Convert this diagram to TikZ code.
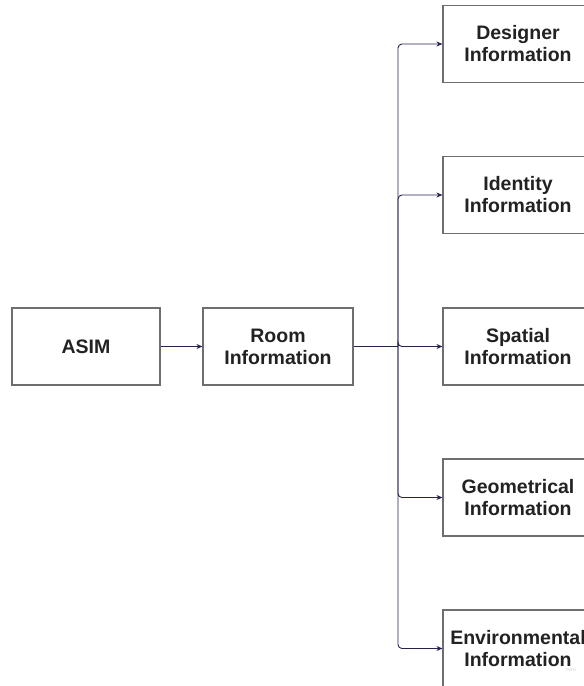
\documentclass[tikz,border=0pt]{standalone}
\usepackage{fontspec}
\setmainfont{Liberation Sans}
\usetikzlibrary{arrows.meta}
\definecolor{boxline}{HTML}{6E6E6E}
\definecolor{wire}{HTML}{24244F}
\definecolor{ink}{HTML}{222222}
\tikzset{
  infobox/.style={draw=boxline, line width=1.1pt, fill=white,
    minimum width=150pt, minimum height=77pt, inner sep=0pt,
    align=center, text=ink,
    font=\fontsize{19.5}{22}\selectfont\bfseries},
  link/.style={draw=wire, line width=0.9pt,
    -{Stealth[length=6pt,width=5pt]}},
  trunk/.style={draw=wire, line width=0.9pt, rounded corners=4pt}
}
\begin{document}
\begin{tikzpicture}[x=1pt,y=-1pt]
  \useasboundingbox (0,0) rectangle (584,686);
  \clip (0,0) rectangle (584,686);
  \fill[white] (0,0) rectangle (584,686);

  % left column
  \node[infobox, minimum width=148pt] (asim) at (86,346.5) {ASIM};
  \node[infobox] (room) at (278,346.5) {Room\\Information};

  % right column (runs past the page edge)
  \node[infobox] (designer) at (518,44)    {Designer\\Information};
  \node[infobox] (identity) at (518,195)   {Identity\\Information};
  \node[infobox] (spatial)  at (518,346.5) {Spatial\\Information};
  \node[infobox] (geom)     at (518,497.5) {Geometrical\\Information};
  \node[infobox] (env)      at (518,648.5) {Environmental\\Information};

  \coordinate (hub) at (398,346.5);

  % connectors
  \draw[link] (asim) -- (room);
  \draw[trunk] (room.east) -- (hub);
  \foreach \t in {designer,identity,spatial,geom,env}
    \draw[link, rounded corners=4pt] (hub) |- (\t.west);

  \node[text=black!18, font=\fontsize{5}{6}\selectfont] (mark) at (571,670) {miro};
\end{tikzpicture}
\end{document}
